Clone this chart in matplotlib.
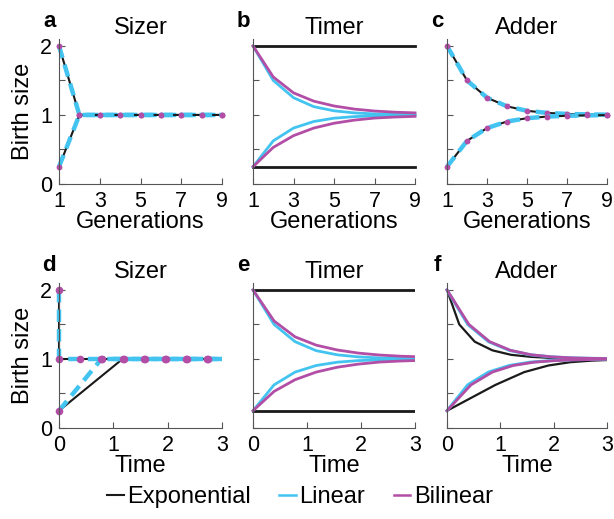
import matplotlib
matplotlib.use("Agg")
import matplotlib.pyplot as plt
from matplotlib.lines import Line2D
from matplotlib.transforms import Bbox, TransformedBbox

plt.rcParams['font.family'] = ['Liberation Sans', 'DejaVu Sans']

BLACK = '#1a1a1a'
CYAN = '#43c4f0'
MAGENTA = '#b24ea6'

# generations (top row) and birth times (bottom row)
gens = [1, 2, 3, 4, 5, 6, 7, 8, 9]
t_gen = [0, 0.39, 0.78, 1.17, 1.56, 1.95, 2.34, 2.73, 3.12]

# sizer, per generation
sizer_hi = [2, 1, 1, 1, 1, 1, 1, 1, 1]
sizer_lo = [0.25, 1, 1, 1, 1, 1, 1, 1, 1]

# timer, per generation
timer_exp_hi = [2, 2, 2, 2, 2, 2, 2, 2, 2]
timer_exp_lo = [0.25, 0.25, 0.25, 0.25, 0.25, 0.25, 0.25, 0.25, 0.25]
timer_lin_hi = [2, 1.5, 1.25, 1.12, 1.06, 1.03, 1.015, 1.008, 1.004]
timer_lin_lo = [0.25, 0.625, 0.81, 0.905, 0.953, 0.976, 0.988, 0.994, 0.997]
timer_bil_hi = [2, 1.55, 1.32, 1.20, 1.13, 1.085, 1.057, 1.04, 1.03]
timer_bil_lo = [0.25, 0.53, 0.70, 0.81, 0.88, 0.925, 0.955, 0.97, 0.98]

# adder, per generation
adder_hi = [2, 1.5, 1.25, 1.125, 1.06, 1.03, 1.015, 1.008, 1.004]
adder_lo = [0.25, 0.625, 0.81, 0.905, 0.953, 0.976, 0.988, 0.994, 0.997]

# sizer, in time
sz_t_hi = [0, 0, 0.39, 0.78, 1.17, 1.56, 1.95, 2.34, 2.73, 3.12]
sz_v_hi = [2, 1, 1, 1, 1, 1, 1, 1, 1, 1]
sz_exp_t_lo = [0, 1.17, 1.56, 1.95, 2.34, 2.73, 3.12]
sz_exp_v_lo = [0.25, 1, 1, 1, 1, 1, 1]
sz_lin_t_lo = [0, 0.78, 1.17, 1.56, 1.95, 2.34, 2.73, 3.12]
sz_lin_v_lo = [0.25, 1, 1, 1, 1, 1, 1, 1]
sz_bil_t_lo = [0, 0.80, 1.19, 1.58, 1.97, 2.36, 2.75, 3.14]
sz_bil_v_lo = [0.25, 1, 1, 1, 1, 1, 1, 1]

# adder, in time
ad_exp_t_hi = [0, 0.23, 0.52, 0.85, 1.2, 1.58, 1.96, 2.35, 2.73, 3.12]
ad_exp_v_hi = [2, 1.5, 1.25, 1.125, 1.06, 1.03, 1.015, 1.008, 1.004, 1.002]
ad_exp_t_lo = [0, 0.91, 1.45, 1.9, 2.31, 2.72, 3.12]
ad_exp_v_lo = [0.25, 0.625, 0.81, 0.905, 0.953, 0.976, 0.988]
ad_bil_t_hi = [0, 0.41, 0.80, 1.19, 1.58, 1.97, 2.36, 2.75, 3.14]
ad_bil_t_lo = [0, 0.45, 0.85, 1.24, 1.63, 2.02, 2.41, 2.80, 3.19]

fig = plt.figure(figsize=(6.14, 5.19), dpi=100)
W, H = 614, 519
lefts = [59, 253, 447]
widths = [163, 162, 160]
tops = [39, 283]
ah = 145

axes = []
for r in range(2):
    for c in range(3):
        ax = fig.add_axes([lefts[c] / W, 1 - (tops[r] + ah) / H,
                           widths[c] / W, ah / H])
        axes.append(ax)

titles = ['Sizer', 'Timer', 'Adder', 'Sizer', 'Timer', 'Adder']
letters = ['a', 'b', 'c', 'd', 'e', 'f']

dash = dict(linestyle='--', dashes=(2.8, 1.6), dash_capstyle='butt')


def clip_right(ax, lines):
    # clip only at the right edge, so lines on the y axis keep full width
    box = TransformedBbox(Bbox([[-0.1, -0.1], [1.0, 1.1]]), ax.transAxes)
    for ln in lines:
        ln.set_clip_box(box)


# a: sizer generations
ax = axes[0]
for v in (sizer_hi, sizer_lo):
    ax.plot(gens, v, color=BLACK, lw=1.5, clip_on=False)
    ax.plot(gens, v, color=CYAN, lw=3.2, clip_on=False, **dash)
    ax.plot(gens, v, 'o', color=MAGENTA, ms=4.2, mec='none', clip_on=False)

# b: timer generations
ax = axes[1]
ax.plot(gens, timer_exp_hi, color=BLACK, lw=2, clip_on=False)
ax.plot(gens, timer_exp_lo, color=BLACK, lw=2, clip_on=False)
ax.plot(gens, timer_lin_hi, color=CYAN, lw=2, clip_on=False)
ax.plot(gens, timer_lin_lo, color=CYAN, lw=2, clip_on=False)
ax.plot(gens, timer_bil_hi, color=MAGENTA, lw=2, clip_on=False)
ax.plot(gens, timer_bil_lo, color=MAGENTA, lw=2, clip_on=False)

# c: adder generations
ax = axes[2]
for v in (adder_hi, adder_lo):
    ax.plot(gens, v, color=BLACK, lw=1.5, clip_on=False)
    ax.plot(gens, v, color=CYAN, lw=3.2, clip_on=False, **dash)
    ax.plot(gens, v, 'o', color=MAGENTA, ms=4.2, mec='none', clip_on=False)

# d: sizer time
ax = axes[3]
ls = []
ls += ax.plot(sz_t_hi, sz_v_hi, color=BLACK, lw=1.5)
ls += ax.plot(sz_exp_t_lo, sz_exp_v_lo, color=BLACK, lw=1.5)
ls += ax.plot(sz_t_hi, sz_v_hi, color=CYAN, lw=3.2, **dash)
ls += ax.plot(sz_lin_t_lo, sz_lin_v_lo, color=CYAN, lw=3.2, **dash)
clip_right(ax, ls)
for tt, vv in ((sz_t_hi, sz_v_hi), (sz_bil_t_lo, sz_bil_v_lo)):
    keep = [(a, b) for a, b in zip(tt, vv) if a <= 3]
    ax.plot([k[0] for k in keep], [k[1] for k in keep], 'o', color=MAGENTA,
            ms=5.5, mec='none', clip_on=False)

# e: timer time
ax = axes[4]
ls = []
ls += ax.plot(t_gen, timer_exp_hi, color=BLACK, lw=2)
ls += ax.plot(t_gen, timer_exp_lo, color=BLACK, lw=2)
ls += ax.plot(t_gen, timer_lin_hi, color=CYAN, lw=2)
ls += ax.plot(t_gen, timer_lin_lo, color=CYAN, lw=2)
ls += ax.plot(t_gen, timer_bil_hi, color=MAGENTA, lw=2)
ls += ax.plot(t_gen, timer_bil_lo, color=MAGENTA, lw=2)
clip_right(ax, ls)

# f: adder time
ax = axes[5]
ls = []
ls += ax.plot(ad_exp_t_hi, ad_exp_v_hi, color=BLACK, lw=1.6)
ls += ax.plot(ad_exp_t_lo, ad_exp_v_lo, color=BLACK, lw=1.6)
ls += ax.plot(t_gen, adder_hi, color=CYAN, lw=2.2)
ls += ax.plot(t_gen, adder_lo, color=CYAN, lw=2.2)
ls += ax.plot(ad_bil_t_hi, adder_hi, color=MAGENTA, lw=2)
ls += ax.plot(ad_bil_t_lo, adder_lo, color=MAGENTA, lw=2)
clip_right(ax, ls)

for i, ax in enumerate(axes):
    ax.set_ylim(0, 2.1)
    for s in ('top', 'right'):
        ax.spines[s].set_visible(False)
    for s in ('left', 'bottom'):
        ax.spines[s].set_color('#555555')
        ax.spines[s].set_linewidth(0.8)
    ax.tick_params(direction='in', length=4, width=0.8, color='#555555',
                   labelsize=15.5, pad=5)
    ax.set_yticks([0, 0.5, 1, 1.5, 2])
    if i in (0, 3):
        ax.set_yticklabels(['0', '', '1', '', '2'])
        ax.set_ylabel('Birth size', fontsize=17, labelpad=4)
    else:
        ax.set_yticklabels([])
    if i < 3:
        ax.set_xlim(1, 9)
        ax.set_xticks([1, 3, 5, 7, 9])
        ax.set_xlabel('Generations', fontsize=17, labelpad=-1)
    else:
        ax.set_xlim(0, 3)
        ax.set_xticks([0, 1, 2, 3])
        ax.set_xlabel('Time', fontsize=17, labelpad=-1)
    ax.set_title(titles[i], fontsize=17, pad=2)
    ax.text(-0.06, 1.08, letters[i], transform=ax.transAxes, fontsize=16,
            fontweight='bold', ha='center', va='baseline')

handles = [Line2D([], [], color=BLACK, lw=1.5),
           Line2D([], [], color=CYAN, lw=1.8),
           Line2D([], [], color=MAGENTA, lw=1.8)]
fig.legend(handles, ['Exponential', 'Linear', 'Bilinear'], loc='center',
           bbox_to_anchor=(300 / W, 1 - 497 / H), ncol=3, frameon=False,
           fontsize=17, handlelength=0.7, handletextpad=0.15,
           columnspacing=1.2, borderpad=0, borderaxespad=0)

fig.savefig('out.png', dpi=100)
